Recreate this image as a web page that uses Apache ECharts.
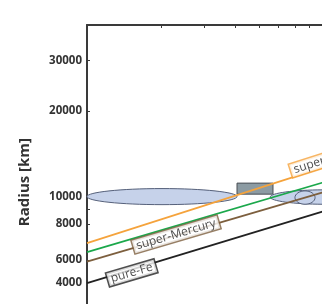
<!DOCTYPE html>
<html>
<head>
<meta charset="utf-8">
<script src="https://cdn.jsdelivr.net/npm/echarts@6/dist/echarts.min.js"></script>
<style>
  html, body { margin: 0; padding: 0; background: #fff; overflow: hidden; }
  #chart { width: 420px; height: 380px; }
</style>
</head>
<body>
<div id="chart"></div>
<script>
// mass in Earth masses, radius in km (both axes are log scale)
var lineMass = [1, 10];
var pureFe = [4970, 9100];
var superMercury = [5910, 10610];
var midLine = [6390, 11480];
var superEarth = [6870, 12970];

// observed planets: mass range x radius range
var ellMassMin = [1.0, 5.55, 7.0];
var ellMassMax = [4.07, 15, 8.45];
var ellRadMin = [9370, 9400, 9400];
var ellRadMax = [10670, 10560, 10470];

var boxMass = [4.07, 5.7];
var boxRad = [10200, 11150];

var yTickValues = [5000, 6000, 8000, 10000, 20000, 30000];
var yTickLabels = ['4000', '6000', '8000', '10000', '20000', '30000'];
var yMinorTicks = [9000];
var xTickValues = [1, 2, 3, 4, 5, 6, 7, 8, 9, 10];

var labelNames = ['pure-Fe', 'super-Mercury', 'super-Earth'];
var labelMass = [1.52, 2.3, 9.3];
var labelRad = [5400, 7360, 13450];

var lg = Math.log10;

function toXY(masses, radii) {
    return masses.map(function (m, i) { return [lg(m), lg(radii[i])]; });
}

var chart = echarts.init(document.getElementById('chart'));

var ellData = ellMassMin.map(function (m, i) {
    return [lg(m), lg(ellMassMax[i]), lg(ellRadMin[i]), lg(ellRadMax[i])];
});
var boxData = [[lg(boxMass[0]), lg(boxMass[1]), lg(boxRad[0]), lg(boxRad[1])]];

function lineSeries(radii, color) {
    return {
        type: 'line',
        data: toXY(lineMass, radii),
        symbol: 'none',
        z: 5,
        lineStyle: { color: color, width: 1.8 }
    };
}

function renderEllipse(params, api) {
    var p0 = api.coord([api.value(0), api.value(2)]);
    var p1 = api.coord([api.value(1), api.value(3)]);
    return {
        type: 'ellipse',
        shape: {
            cx: (p0[0] + p1[0]) / 2,
            cy: (p0[1] + p1[1]) / 2,
            rx: Math.abs(p1[0] - p0[0]) / 2,
            ry: Math.abs(p1[1] - p0[1]) / 2
        },
        style: { fill: '#c6d2ea', stroke: '#55607a', lineWidth: 1 }
    };
}

var labelColors = ['#222222', '#7d5f3e', '#f5a33c'];
var labelAngles = [16.5, 16.4, 17.7];

var option = {
    animation: false,
    // plot box runs past the visible window on the right and bottom
    grid: { left: 87, top: 25, width: 289.4, height: 314.1 },
    xAxis: {
        type: 'value',
        position: 'top',
        min: 0,
        max: lg(15),
        axisLine: { show: true, lineStyle: { color: '#3a3a3a', width: 2 } },
        axisTick: {
            show: true, inside: true, length: 3,
            customValues: xTickValues.map(lg),
            lineStyle: { color: '#3a3a3a', width: 1 }
        },
        axisLabel: { show: false },
        splitLine: { show: false }
    },
    yAxis: {
        type: 'value',
        min: 3.5,
        max: lg(40000),
        name: 'Radius [km]',
        nameLocation: 'middle',
        nameGap: 55,
        nameTextStyle: { fontFamily: 'Open Sans', fontWeight: 'bold', fontSize: 15, color: '#333' },
        axisLine: { show: true, lineStyle: { color: '#3a3a3a', width: 2 } },
        axisTick: {
            show: true, inside: true, length: 3,
            customValues: yTickValues.concat(yMinorTicks).map(lg),
            lineStyle: { color: '#3a3a3a', width: 1 }
        },
        axisLabel: {
            margin: 5,
            customValues: yTickValues.map(lg),
            fontFamily: 'Open Sans', fontWeight: 'bold', fontSize: 11.5, color: '#333',
            formatter: function (v) {
                for (var i = 0; i < yTickValues.length; i++) {
                    if (Math.abs(lg(yTickValues[i]) - v) < 1e-6) return yTickLabels[i];
                }
                return '';
            }
        },
        splitLine: { show: false }
    },
    series: [
        { type: 'custom', z: 2, data: ellData.slice(0, 1), renderItem: renderEllipse },
        {
            type: 'custom',
            z: 2,
            data: boxData,
            renderItem: function (params, api) {
                var p0 = api.coord([api.value(0), api.value(2)]);
                var p1 = api.coord([api.value(1), api.value(3)]);
                return {
                    type: 'rect',
                    shape: { x: p0[0], y: p1[1], width: p1[0] - p0[0], height: p0[1] - p1[1] },
                    style: { fill: '#8c9ba3', stroke: '#4a4f55', lineWidth: 1 }
                };
            }
        },
        { type: 'custom', z: 2, data: ellData.slice(1), renderItem: renderEllipse },
        lineSeries(pureFe, '#222222'),
        lineSeries(superMercury, '#7d5f3e'),
        lineSeries(midLine, '#1ba84b'),
        lineSeries(superEarth, '#f5a33c'),
        {
            type: 'scatter',
            z: 10,
            symbolSize: 0,
            data: labelNames.map(function (n, i) {
                return {
                    value: [lg(labelMass[i]), lg(labelRad[i])],
                    name: n,
                    label: { rotate: labelAngles[i], borderColor: labelColors[i] }
                };
            }),
            label: {
                show: true,
                position: 'inside',
                formatter: '{b}',
                fontFamily: 'Open Sans',
                fontSize: 12,
                color: '#222',
                backgroundColor: '#fff',
                borderWidth: 1.5,
                padding: [0, 3, 1, 3]
            }
        }
    ]
};

chart.setOption(option);
</script>
</body>
</html>
